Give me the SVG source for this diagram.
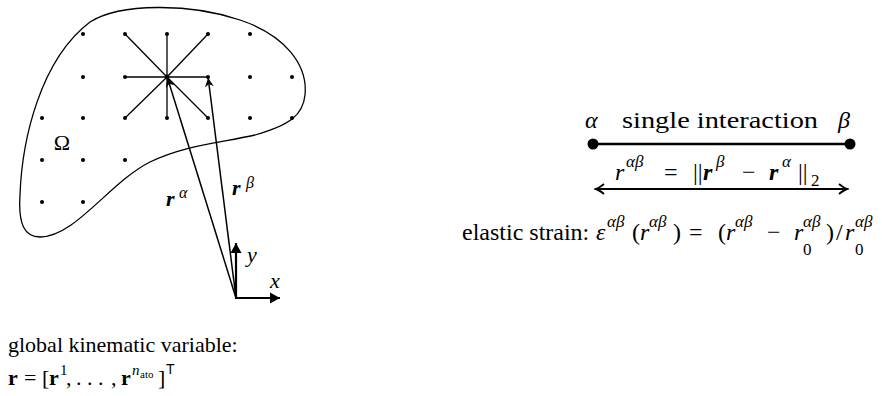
<svg xmlns="http://www.w3.org/2000/svg" width="882" height="396" viewBox="0 0 882 396">
<style>
.t{font-family:"Liberation Serif","Times New Roman",serif;fill:#000}
.i{font-style:italic}
.bi{font-style:italic;font-weight:bold}
.b{font-weight:bold}
.s{font-family:"Liberation Sans",Arial,sans-serif}
.ln{stroke:#000;fill:none}
.dot{fill:#000}
</style>
<defs>
<marker id="vec" viewBox="-10 -6 12 12" markerWidth="12" markerHeight="12" refX="0" refY="0" orient="auto" markerUnits="userSpaceOnUse">
<path d="M0,0 L-9,-4.5 L-6,0 L-9,4.5 Z" fill="#000"/>
</marker>
<marker id="ax" viewBox="-12 -7 14 14" markerWidth="14" markerHeight="14" refX="0" refY="0" orient="auto" markerUnits="userSpaceOnUse">
<path d="M0,0 L-10,-5.5 L-10,5.5 Z" fill="#000"/>
</marker>
<marker id="barb" viewBox="-12 -7 14 14" markerWidth="14" markerHeight="14" refX="0" refY="0" orient="auto-start-reverse" markerUnits="userSpaceOnUse">
<path d="M-8,-5 Q-3,-1 0,0 Q-3,1 -8,5" fill="none" stroke="#000" stroke-width="2"/>
</marker>
</defs>

<g id="domain">
<path class="ln" stroke-width="1.3" d="M40,237 C25,237 18,225 20,195 C22,140 40,60 90,22 C120,3 190,3 240,20 C285,35 308,65 305,95 C303,115 290,125 255,135 C220,143 185,145 150,162 C110,182 75,237 40,237 Z"/>
<text class="t" x="62" y="150" font-size="22" text-anchor="middle">Ω</text>
</g>

<g id="particles">
<circle class="dot" cx="83" cy="34" r="2"/><circle class="dot" cx="125" cy="34" r="2"/><circle class="dot" cx="167" cy="34" r="2"/><circle class="dot" cx="208" cy="34" r="2"/><circle class="dot" cx="250" cy="34" r="2"/>
<circle class="dot" cx="83" cy="77" r="2"/><circle class="dot" cx="125" cy="77" r="2"/><circle class="dot" cx="167" cy="77" r="2.4"/><circle class="dot" cx="208" cy="77" r="2"/><circle class="dot" cx="250" cy="77" r="2"/><circle class="dot" cx="292" cy="77" r="2"/>
<circle class="dot" cx="42" cy="118" r="2"/><circle class="dot" cx="83" cy="118" r="2"/><circle class="dot" cx="125" cy="118" r="2"/><circle class="dot" cx="167" cy="118" r="2"/><circle class="dot" cx="208" cy="118" r="2"/><circle class="dot" cx="250" cy="118" r="2"/><circle class="dot" cx="292" cy="118" r="2"/>
<circle class="dot" cx="42" cy="160" r="2"/><circle class="dot" cx="83" cy="160" r="2"/><circle class="dot" cx="125" cy="160" r="2"/>
<circle class="dot" cx="42" cy="202" r="2"/><circle class="dot" cx="83" cy="202" r="2"/>
</g>

<g id="connectors">
<g class="ln" stroke-width="1.3">
<line x1="167" y1="77" x2="125" y2="34"/><line x1="167" y1="77" x2="167" y2="34"/><line x1="167" y1="77" x2="208" y2="34"/>
<line x1="167" y1="77" x2="125" y2="77"/><line x1="167" y1="77" x2="208" y2="77"/>
<line x1="167" y1="77" x2="125" y2="118"/><line x1="167" y1="77" x2="167" y2="118"/><line x1="167" y1="77" x2="208" y2="118"/>
</g>
<line class="ln" stroke-width="1.5" x1="236" y1="298" x2="167.5" y2="78" marker-end="url(#vec)"/>
<line class="ln" stroke-width="1.5" x1="236" y1="298" x2="208.2" y2="78" marker-end="url(#vec)"/>
<line class="ln" stroke-width="2.2" x1="236" y1="299" x2="236" y2="243" marker-end="url(#ax)"/>
<line class="ln" stroke-width="2.2" x1="235" y1="298" x2="280" y2="298" marker-end="url(#ax)"/>
<line class="ln" stroke-width="2.4" x1="593" y1="144" x2="850" y2="144"/>
<line class="ln" stroke-width="2" x1="596" y1="189" x2="847" y2="189" marker-start="url(#barb)" marker-end="url(#barb)"/>
</g>

<g id="labels-left">
<text class="t bi" x="166" y="206" font-size="22">r</text>
<text class="t i" x="179" y="198" font-size="16">α</text>
<text class="t bi" x="232" y="195" font-size="22">r</text>
<text class="t i" x="246" y="188" font-size="16">β</text>
<text class="t i" x="247" y="262" font-size="22">y</text>
<text class="t i" x="270" y="288" font-size="22">x</text>
</g>

<g id="interaction">
<circle class="dot" cx="593" cy="144" r="5.5"/>
<circle class="dot" cx="850" cy="144" r="5.5"/>
<text class="t i" x="585" y="128" font-size="24">α</text>
<text class="t" x="622" y="128" font-size="24" textLength="196" lengthAdjust="spacingAndGlyphs">single interaction</text>
<text class="t i" x="838" y="128" font-size="24">β</text>
<text class="t i" x="615" y="180" font-size="24">r</text>
<text class="t i" x="626" y="167" font-size="17">αβ</text>
<text class="t" x="664" y="180" font-size="24">=</text>
<text class="t" x="693" y="180" font-size="24">||</text>
<text class="t bi" x="703" y="180" font-size="24">r</text>
<text class="t i" x="716" y="167" font-size="17">β</text>
<text class="t" x="742" y="180" font-size="24">−</text>
<text class="t bi" x="769" y="180" font-size="24">r</text>
<text class="t i" x="782" y="167" font-size="17">α</text>
<text class="t" x="798" y="180" font-size="24">||</text>
<text class="t" x="811" y="186" font-size="17">2</text>
</g>

<g id="strain">
<text class="t" x="462" y="240" font-size="24">elastic strain:</text>
<text class="t i" x="596" y="240" font-size="24">ε</text>
<text class="t i" x="607" y="227" font-size="17">αβ</text>
<text class="t" x="632" y="240" font-size="24">(</text>
<text class="t i" x="640" y="240" font-size="24">r</text>
<text class="t i" x="649" y="227" font-size="17">αβ</text>
<text class="t" x="673" y="240" font-size="24">)</text>
<text class="t" x="689" y="240" font-size="24">=</text>
<text class="t" x="718" y="240" font-size="24">(</text>
<text class="t i" x="726" y="240" font-size="24">r</text>
<text class="t i" x="735" y="227" font-size="17">αβ</text>
<text class="t" x="767" y="240" font-size="24">−</text>
<text class="t i" x="794" y="240" font-size="24">r</text>
<text class="t i" x="803" y="227" font-size="17">αβ</text>
<text class="t" x="803" y="255" font-size="17">0</text>
<text class="t" x="826" y="240" font-size="24">)</text>
<text class="t" x="836" y="240" font-size="24">/</text>
<text class="t i" x="845" y="240" font-size="24">r</text>
<text class="t i" x="855" y="227" font-size="17">αβ</text>
<text class="t" x="855" y="255" font-size="17">0</text>
</g>

<g id="global-variable">
<text class="t" x="8" y="352" font-size="22">global kinematic variable:</text>
<text class="t b" x="8" y="385" font-size="22">r</text>
<text class="t" x="24" y="385" font-size="22">=</text>
<text class="t" x="42" y="385" font-size="22">[</text>
<text class="t b" x="49" y="385" font-size="22">r</text>
<text class="t" x="60" y="375" font-size="15">1</text>
<text class="t" x="66" y="385" font-size="22">,</text>
<text class="t" x="76" y="385" font-size="22">. . .</text>
<text class="t" x="111" y="385" font-size="22">,</text>
<text class="t b" x="121" y="385" font-size="22">r</text>
<text class="t i" x="132" y="375" font-size="15">n</text>
<text class="t" x="140" y="378" font-size="11">ato</text>
<text class="t" x="158" y="385" font-size="22">]</text>
<text class="s" x="166" y="374" font-size="14">T</text>
</g>
</svg>
